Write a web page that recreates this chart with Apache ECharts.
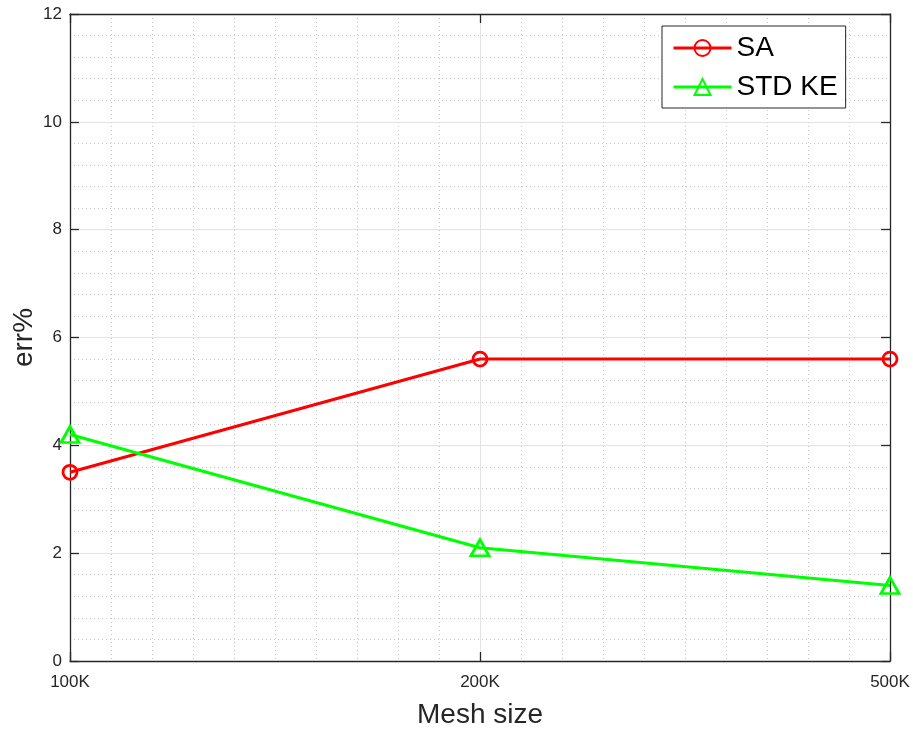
<!DOCTYPE html>
<html>
<head>
<meta charset="utf-8">
<script src="https://cdn.jsdelivr.net/npm/echarts@6/dist/echarts.min.js"></script>
<style>
html,body{margin:0;padding:0;background:#fff;}
#chart{width:913px;height:730px;}
</style>
</head>
<body>
<div id="chart"></div>
<script>
var categories = ['100K', '200K', '500K'];
var saValues = [3.5, 5.6, 5.6];
var stdKeValues = [4.2, 2.1, 1.4];
var yTicks = [0, 2, 4, 6, 8, 10, 12];

var axisColor = '#262626';
var font = 'Liberation Sans, Arial, sans-serif';

function toPoints(vals) {
  return vals.map(function (v, i) { return [i, v]; });
}

var chart = echarts.init(document.getElementById('chart'));
var minorDotted = { show: true, lineStyle: { color: '#c8c8c8', width: 1, type: [1, 3] } };
var majorSplit = { show: true, lineStyle: { color: '#e3e3e3', width: 1 } };
var boxLine = { show: true, onZero: false, lineStyle: { color: axisColor, width: 1.3 } };
var boxTick = { show: true, inside: true, length: 9, lineStyle: { color: axisColor, width: 1.3 } };

chart.setOption({
  animation: false,
  backgroundColor: '#fff',
  grid: { left: 70, right: 23, top: 14, bottom: 69, containLabel: false, outerBoundsMode: 'none' },
  legend: {
    left: 662, top: 26,
    orient: 'vertical',
    backgroundColor: '#fff',
    borderColor: axisColor, borderWidth: 1,
    padding: [7, 8, 6, 10],
    itemWidth: 58, itemHeight: 20, itemGap: 9,
    lineStyle: { width: 3 },
    textStyle: { fontSize: 28, fontFamily: font, color: '#000', lineHeight: 30 },
    data: ['SA', 'STD KE']
  },
  xAxis: [{
    type: 'value', min: 0, max: 2, interval: 1,
    position: 'bottom',
    name: 'Mesh size', nameLocation: 'middle', nameGap: 40, nameMoveOverlap: false,
    nameTextStyle: { fontSize: 28, fontFamily: font, color: axisColor },
    axisLine: boxLine,
    axisTick: boxTick,
    axisLabel: { fontSize: 17, fontFamily: font, color: axisColor, margin: 13,
      formatter: function (v) { return categories[v] !== undefined ? categories[v] : ''; } },
    splitLine: majorSplit,
    minorTick: { show: false, splitNumber: 10 },
    minorSplitLine: minorDotted
  }, {
    type: 'value', min: 0, max: 2, interval: 1,
    position: 'top',
    axisLine: boxLine,
    axisTick: boxTick,
    axisLabel: { show: false },
    splitLine: { show: false }
  }],
  yAxis: [{
    type: 'value', min: yTicks[0], max: yTicks[yTicks.length - 1], interval: yTicks[1] - yTicks[0],
    position: 'left',
    name: 'err%', nameLocation: 'middle', nameGap: 32, nameMoveOverlap: false,
    nameTextStyle: { fontSize: 28, fontFamily: font, color: axisColor },
    axisLine: boxLine,
    axisTick: boxTick,
    axisLabel: { fontSize: 17, fontFamily: font, color: axisColor, margin: 8 },
    splitLine: majorSplit,
    minorTick: { show: false, splitNumber: 5 },
    minorSplitLine: minorDotted
  }, {
    type: 'value', min: yTicks[0], max: yTicks[yTicks.length - 1], interval: yTicks[1] - yTicks[0],
    position: 'right',
    axisLine: boxLine,
    axisTick: boxTick,
    axisLabel: { show: false },
    splitLine: { show: false }
  }],
  series: [{
    name: 'SA', type: 'line',
    data: toPoints(saValues),
    color: '#ff0000',
    symbol: 'circle', symbolSize: 14,
    lineStyle: { color: '#ff0000', width: 3 },
    itemStyle: { color: 'rgba(255,255,255,0)', borderColor: '#ff0000', borderWidth: 2.8 },
    z: 3
  }, {
    name: 'STD KE', type: 'line',
    data: toPoints(stdKeValues),
    color: '#00ff00',
    symbol: 'triangle', symbolSize: [18, 16],
    lineStyle: { color: '#00ff00', width: 3 },
    itemStyle: { color: 'rgba(255,255,255,0)', borderColor: '#00ff00', borderWidth: 2.8 },
    z: 3
  }]
});
</script>
</body>
</html>
